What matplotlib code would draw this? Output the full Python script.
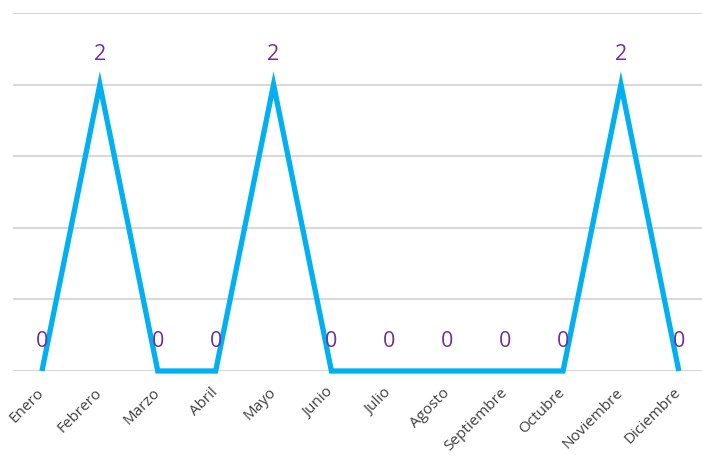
import matplotlib
matplotlib.use("Agg")
import matplotlib.pyplot as plt

months = ["Enero", "Febrero", "Marzo", "Abril", "Mayo", "Junio", "Julio",
          "Agosto", "Septiembre", "Octubre", "Noviembre", "Diciembre"]
values = [0, 2, 0, 0, 2, 0, 0, 0, 0, 0, 2, 0]
y_ticks = [0, 0.5, 1, 1.5, 2, 2.5]

W, H = 702, 455
fig = plt.figure(figsize=(W / 100, H / 100), dpi=100)
left = 13 / W
bottom = (H - 371) / H
top = (H - 13) / H
ax = fig.add_axes([left, bottom, 1 - left, top - bottom])

x = list(range(len(months)))
ax.plot(x, values, color="#00B0F0", linewidth=3.8, solid_joinstyle="miter",
        solid_capstyle="butt", zorder=3, clip_on=False)

for xi, v in zip(x, values):
    ax.annotate(str(v), (xi, v), xytext=(0, 21.5), textcoords="offset points",
                ha="center", va="center", color="#7030A0", fontsize=15.5,
                family="Open Sans", zorder=4)

ax.set_xlim(-0.5, 11.4)
ax.set_ylim(0, 2.5)
ax.set_yticks(y_ticks)
ax.set_yticklabels([])
ax.grid(axis="y", color="#D9D9D9", linewidth=1.5)
ax.set_axisbelow(True)
ax.set_xticks(x)
ax.set_xticklabels(months, rotation=45, ha="right", va="center",
                   rotation_mode="anchor", fontsize=11, family="Open Sans",
                   color="#404040")
ax.tick_params(axis="both", length=0, pad=14)
for s in ax.spines.values():
    s.set_visible(False)

fig.savefig("out.png", dpi=100)
